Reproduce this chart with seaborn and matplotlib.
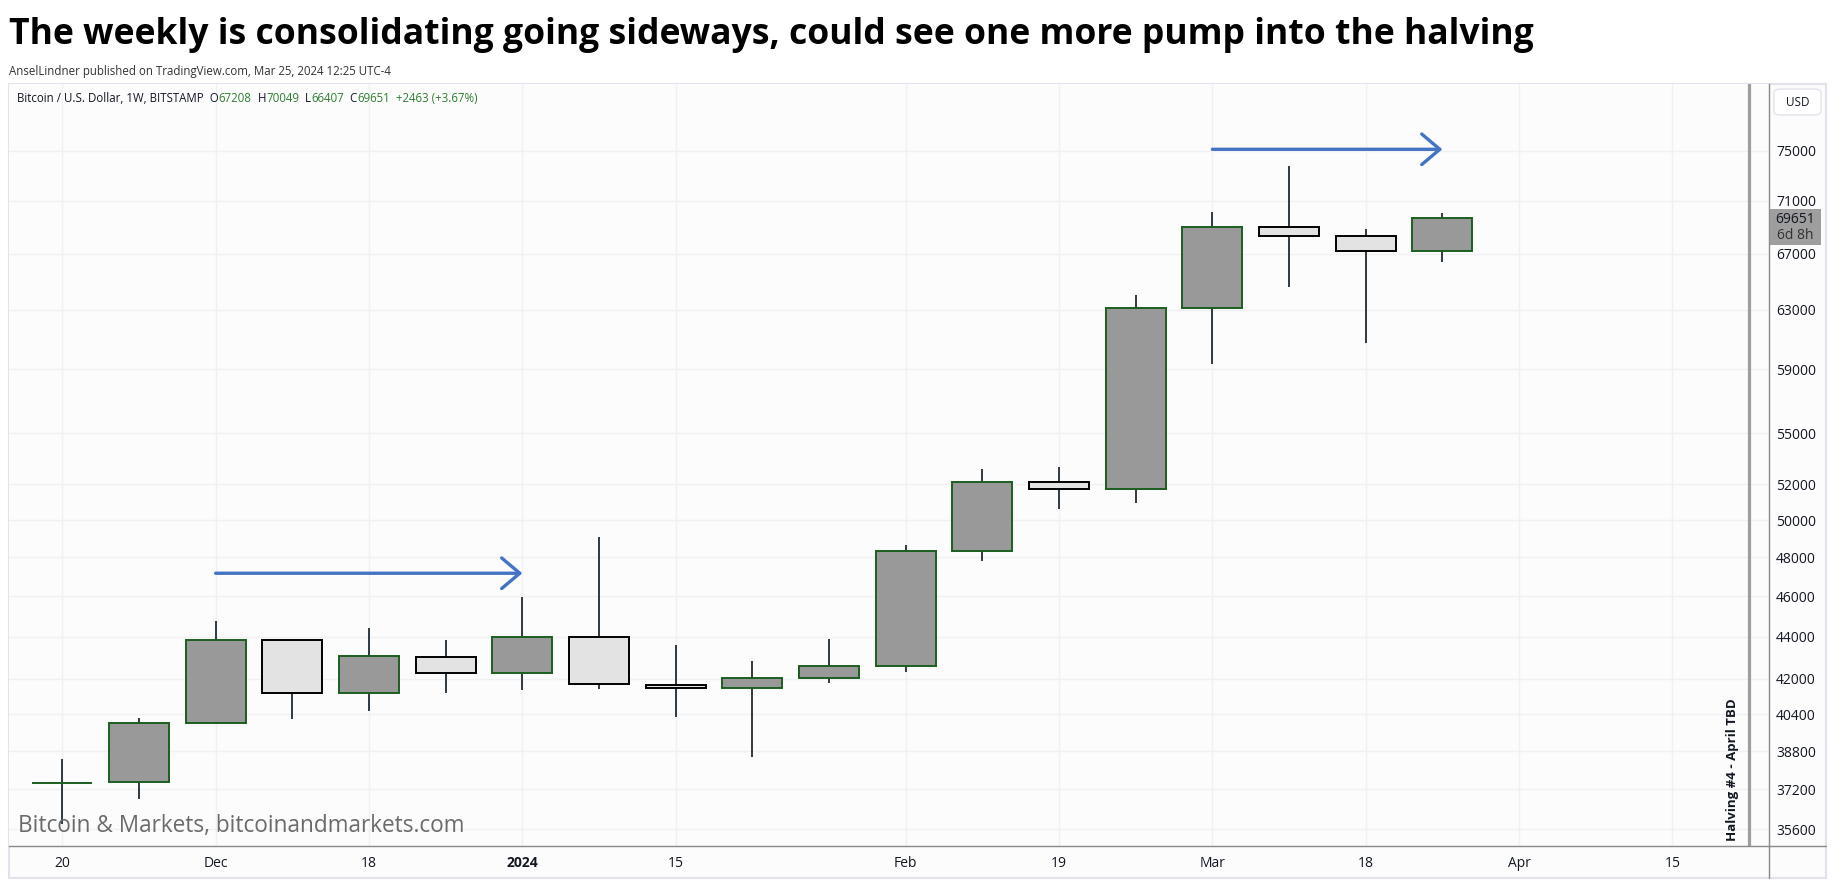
#!/usr/bin/env python
# Weekly BTC/USD candles (Bitstamp), Nov 2023 - Mar 2024, TradingView style

import numpy as np
import pandas as pd
import seaborn as sns
import matplotlib.pyplot as plt
import matplotlib.transforms as mtransforms
from matplotlib.patches import Rectangle, FancyBboxPatch
from matplotlib.lines import Line2D
from matplotlib.ticker import NullLocator

# The data

weeks = ['2023-11-20', '2023-11-27', '2023-12-04', '2023-12-11', '2023-12-18',
         '2023-12-25', '2024-01-01', '2024-01-08', '2024-01-15', '2024-01-22',
         '2024-01-29', '2024-02-05', '2024-02-12', '2024-02-19', '2024-02-26',
         '2024-03-04', '2024-03-11', '2024-03-18', '2024-03-25']
opens = [37460, 37490, 40000, 43820, 41340, 43010, 42260, 43980, 41710, 41570,
         42030, 42580, 48320, 52130, 51730, 63100, 68970, 68290, 67208]
highs = [38460, 40220, 44760, 43850, 44420, 43850, 45960, 49090, 43600, 42830,
         43880, 48630, 52880, 52980, 64030, 70120, 73750, 68880, 70049]
lows = [35800, 36800, 39990, 40200, 40560, 41370, 41510, 41560, 40300, 38570,
        41800, 42300, 47820, 50610, 50930, 59330, 64580, 60770, 66407]
closes = [37470, 40000, 43820, 41340, 43060, 42260, 43980, 41750, 41570, 42030,
          42580, 48320, 52130, 51730, 63100, 68970, 68290, 67208, 69651]

ytick_values = [35600, 37200, 38800, 40400, 42000, 44000, 46000, 48000, 50000,
                52000, 55000, 59000, 63000, 67000, 71000, 75000]
xtick_weeks = [0, 2, 4, 6, 8, 11, 13, 15, 17, 19, 21]
xtick_labels = ['20', 'Dec', '18', '2024', '15', 'Feb', '19', 'Mar', '18', 'Apr', '15']

# drawn arrows: start week, end week, price level
arrow_start = [2, 15]
arrow_end = [6, 18]
arrow_price = [47170, 75140]
halving_week = 22.0

last_price = 69651
title = 'The weekly is consolidating going sideways, could see one more pump into the halving'
subtitle = 'AnselLindner published on TradingView.com, Mar 25, 2024 12:25 UTC-4'
watermark = 'Bitcoin & Markets, bitcoinandmarkets.com'

UP_FILL, UP_EDGE = '#999999', '#1b5e20'
DN_FILL, DN_EDGE = '#e3e3e3', '#000000'
WICK = '#1e2a33'
ARROW = '#4472c4'
TXT = '#131722'
GREEN = '#2e7d32'

sns.set_style('white')
plt.rcParams['font.family'] = ['Open Sans', 'DejaVu Sans']

W, H = 1835, 888


def fx(px):
    return px / W


def fy(py):
    return 1 - py / H


fig = plt.figure(figsize=(W / 100, H / 100), dpi=100)
fig.patch.set_facecolor('white')

# panel frame
fig.add_artist(Rectangle((fx(9), fy(878)), fx(1826) - fx(9), fy(84) - fy(878),
                         transform=fig.transFigure, facecolor='#fcfcfc',
                         edgecolor='#e0e3eb', lw=1.5, zorder=0))

ax = fig.add_axes([fx(9.4), fy(846), fx(1769) - fx(9.4), fy(84.3) - fy(846)])
ax.set_facecolor('#fcfcfc')

df = pd.DataFrame({'week': pd.to_datetime(weeks), 'open': opens, 'high': highs,
                   'low': lows, 'close': closes})
df['x'] = np.arange(len(df))
df['up'] = df['close'] >= df['open']
df['bottom'] = df[['open', 'close']].min(axis=1)
df['height'] = (df['close'] - df['open']).abs().clip(lower=8)

# wicks then bodies
ax.vlines(df['x'], df['low'], df['high'], color=WICK, lw=1.3, zorder=2)
ax.bar(df['x'], df['height'], bottom=df['bottom'], width=0.78,
       color=np.where(df['up'], UP_FILL, DN_FILL),
       edgecolor=np.where(df['up'], UP_EDGE, DN_EDGE), linewidth=1.4, zorder=3)

# arrows
for xs, xe, p in zip(arrow_start, arrow_end, arrow_price):
    ax.annotate('', xy=(xe, p), xytext=(xs, p),
                arrowprops=dict(arrowstyle='->,head_length=1.3,head_width=1.1',
                                color=ARROW, lw=2.4, shrinkA=0, shrinkB=0),
                zorder=4)

# halving marker
ax.axvline(halving_week, color='#9e9e9e', lw=2.3, zorder=2)
blend = mtransforms.blended_transform_factory(ax.transData, ax.transAxes)
halv = ax.text(halving_week - 0.21, 0.006, 'Halving #4 - April TBD', transform=blend,
               rotation=90, ha='center', va='bottom', fontsize=9,
               fontweight='bold', color=TXT, zorder=5)

# scales
ax.set_yscale('log')
ax.set_ylim(34960, 80700)
ax.set_xlim(-0.69, 22.26)
ax.yaxis.tick_right()
ax.set_yticks(ytick_values)
ax.set_yticklabels([str(v) for v in ytick_values])
ax.yaxis.set_minor_locator(NullLocator())
ax.tick_params(axis='y', length=0, pad=5, labelsize=10, labelcolor=TXT)
ax.set_xticks(xtick_weeks)
ax.set_xticklabels(xtick_labels)
ax.tick_params(axis='x', length=0, pad=7, labelsize=10, labelcolor=TXT)
for lab in ax.get_xticklabels():
    if lab.get_text() == '2024':
        lab.set_fontweight('bold')

ax.grid(True, color='#f0f1f3', lw=1)
ax.set_axisbelow(True)
for side in ['top', 'left']:
    ax.spines[side].set_visible(False)
for side in ['right', 'bottom']:
    ax.spines[side].set_color('#8a8a8a')
    ax.spines[side].set_linewidth(1)

fig.add_artist(Line2D([fx(1769), fx(1769)], [fy(846), fy(878)], color='#8a8a8a', lw=1))
fig.add_artist(Line2D([fx(1769), fx(1826)], [fy(846), fy(846)], color='#8a8a8a', lw=1))

# last price label on the scale
ytrans = mtransforms.blended_transform_factory(ax.transAxes, ax.transData)
axw = 1769 - 9.4
ax.add_patch(Rectangle((1 + 0.5 / axw, 67620), 51 / axw, 70350 - 67620,
                       transform=ytrans, facecolor='#9e9e9e', edgecolor='none',
                       clip_on=False, zorder=5))
ax.text(1 + 26 / axw, 69600, str(last_price), transform=ytrans, ha='center',
        va='center', fontsize=10, color=TXT, zorder=6)
ax.text(1 + 26 / axw, 68320, '6d 8h', transform=ytrans, ha='center',
        va='center', fontsize=10, color='#333333', zorder=6)

# USD box
fig.add_artist(FancyBboxPatch((fx(1774), fy(115)), fx(1821) - fx(1774), fy(89) - fy(115),
                              boxstyle='round,pad=0,rounding_size=0.004',
                              transform=fig.transFigure, facecolor='white',
                              edgecolor='#e0e3eb', lw=1))
fig.text(fx(1797.5), fy(102), 'USD', ha='center', va='center', fontsize=8.5, color=TXT)

# texts
t_title = fig.text(fx(9), fy(35), title, fontsize=24, fontweight='bold',
                   color='black', va='center')
t_sub = fig.text(fx(9), fy(71), subtitle, fontsize=7.5, color='#333333', va='center')
t_wm = fig.text(fx(18), fy(826), watermark, fontsize=15, color='#6b6b6b', va='center')

renderer = fig.canvas.get_renderer()


def fit_width(t, target_px, use_height=False):
    bb = t.get_window_extent(renderer)
    size = bb.height if use_height else bb.width
    t.set_fontsize(t.get_fontsize() * target_px / size)


fit_width(t_title, 1524)
fit_width(t_sub, 382)
fit_width(t_wm, 447)
fit_width(halv, 142, use_height=True)

# info line with coloured values
segments = [('Bitcoin / U.S. Dollar, 1W, BITSTAMP  O', TXT), ('67208', GREEN),
            ('  H', TXT), ('70049', GREEN), ('  L', TXT), ('66407', GREEN),
            ('  C', TXT), ('69651', GREEN), ('  +2463 (+3.67%)', GREEN)]
prev = fig.text(fx(17), fy(98), segments[0][0], fontsize=8.3, color=segments[0][1], va='center')
info = [prev]
for s, c in segments[1:]:
    prev = ax.annotate(s, xy=(1, 0), xycoords=prev, va='bottom', ha='left',
                       fontsize=8.3, color=c, annotation_clip=False)
    info.append(prev)

fig.savefig('out.png', dpi=100, facecolor='white')
